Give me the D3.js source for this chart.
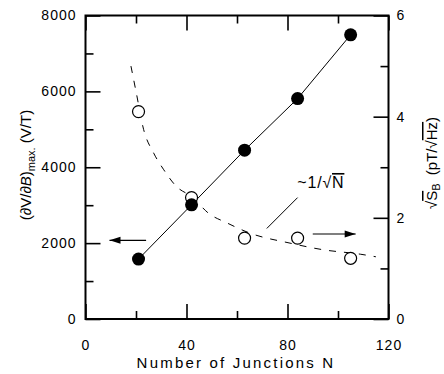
<!DOCTYPE html>
<html><head><meta charset="utf-8">
<script src="https://cdn.jsdelivr.net/npm/d3@7"></script>
<style>
body{margin:0;background:#fff;}
svg{display:block;font-family:"Liberation Sans",Arial,sans-serif;}
</style></head>
<body><svg id="c" width="444" height="374"></svg>
<script>
const junctions = [21, 42, 63, 84, 105];
const sensitivity = [1580, 3010, 4450, 5810, 7490];
const noise = [4.1, 2.4, 1.6, 1.6, 1.2];
const fitN = [18, 20, 23, 27, 31, 36, 42, 49, 56, 65, 81, 94, 109, 115];
const fitNoise = [5.0, 4.5, 3.75, 3.28, 2.95, 2.62, 2.42, 2.08, 1.9, 1.7, 1.5, 1.37, 1.28, 1.23];
const xMajor = [0, 40, 80, 120];
const xMinor = [20, 60, 100];
const yLMajor = [0, 2000, 4000, 6000, 8000];
const yLMinor = [1000, 3000, 5000, 7000];
const yRMajor = [0, 2, 4, 6];
const yRMinor = [1, 3, 5];

const svg = d3.select("#c");
const L = 85.5, R = 388.5, T = 15.5, B = 319;
const x = d3.scaleLinear().domain([0, 120]).range([L, R]);
const yL = d3.scaleLinear().domain([0, 8000]).range([B, T]);
const yR = d3.scaleLinear().domain([0, 6]).range([B, T]);

function styleAxis(g, fs) {
  g.select(".domain").remove();
  g.selectAll(".tick line").attr("stroke", "#000").attr("stroke-width", 1.6);
  g.selectAll("text").attr("fill", "#000").attr("font-size", fs).attr("letter-spacing", "1px")
    .attr("font-family", "'Liberation Sans',Arial,sans-serif");
}
// bottom
svg.append("g").attr("transform", `translate(0,${B})`)
  .call(d3.axisBottom(x).tickValues(xMajor).tickSize(-15).tickPadding(21).tickFormat(d3.format("d")))
  .call(g => styleAxis(g, 14));
svg.append("g").attr("transform", `translate(0,${B})`)
  .call(d3.axisBottom(x).tickValues(xMinor).tickSize(-8).tickFormat(""))
  .call(g => styleAxis(g, 14));
// top
svg.append("g").attr("transform", `translate(0,${T})`)
  .call(d3.axisTop(x).tickValues(xMajor).tickSize(-15).tickFormat(""))
  .call(g => styleAxis(g, 14));
svg.append("g").attr("transform", `translate(0,${T})`)
  .call(d3.axisTop(x).tickValues(xMinor).tickSize(-8).tickFormat(""))
  .call(g => styleAxis(g, 14));
// left
svg.append("g").attr("transform", `translate(${L},0)`)
  .call(d3.axisLeft(yL).tickValues(yLMajor).tickSize(-15).tickPadding(9).tickFormat(d3.format("d")))
  .call(g => styleAxis(g, 14));
svg.append("g").attr("transform", `translate(${L},0)`)
  .call(d3.axisLeft(yL).tickValues(yLMinor).tickSize(-8).tickFormat(""))
  .call(g => styleAxis(g, 14));
// right
svg.append("g").attr("transform", `translate(${R},0)`)
  .call(d3.axisRight(yR).tickValues(yRMajor).tickSize(-15).tickPadding(8).tickFormat(d3.format("d")))
  .call(g => styleAxis(g, 14));
svg.append("g").attr("transform", `translate(${R},0)`)
  .call(d3.axisRight(yR).tickValues(yRMinor).tickSize(-8).tickFormat(""))
  .call(g => styleAxis(g, 14));

// frame
svg.append("rect").attr("x", L).attr("y", T).attr("width", R - L).attr("height", B - T)
  .attr("fill", "none").attr("stroke", "#000").attr("stroke-width", 2);

// dashed fit curve
svg.append("path")
  .datum(fitN.map((n, i) => [n, fitNoise[i]]))
  .attr("d", d3.line().x(d => x(d[0])).y(d => yR(d[1])).curve(d3.curveMonotoneX))
  .attr("fill", "none").attr("stroke", "#000").attr("stroke-width", 1)
  .attr("stroke-dasharray", "7,8");

// solid line through sensitivity
svg.append("path")
  .datum(junctions.map((n, i) => [n, sensitivity[i]]))
  .attr("d", d3.line().x(d => x(d[0])).y(d => yL(d[1])))
  .attr("fill", "none").attr("stroke", "#000").attr("stroke-width", 1);

// open circles
svg.selectAll(".open").data(junctions).join("circle")
  .attr("cx", d => x(d)).attr("cy", (d, i) => yR(noise[i])).attr("r", 6)
  .attr("fill", "#fff").attr("stroke", "#000").attr("stroke-width", 1.2);

// filled circles
svg.selectAll(".fill").data(junctions).join("circle")
  .attr("cx", d => x(d)).attr("cy", (d, i) => yL(sensitivity[i])).attr("r", 6.5)
  .attr("fill", "#000");

// arrows
function arrow(x1, y1, x2, y2) {
  svg.append("line").attr("x1", x1).attr("y1", y1).attr("x2", x2).attr("y2", y2)
    .attr("stroke", "#000").attr("stroke-width", 1.2);
  const dir = Math.sign(x2 - x1);
  svg.append("path")
    .attr("d", `M${x2},${y2} L${x2 - dir * 11},${y2 - 3.5} L${x2 - dir * 11},${y2 + 3.5} Z`)
    .attr("fill", "#000");
}
arrow(x(24), yL(2075), x(9.5), yL(2075));
arrow(x(90), yR(1.68), x(107), yR(1.68));

// annotation line
svg.append("line").attr("x1", x(71.8)).attr("y1", yR(1.79)).attr("x2", x(84)).attr("y2", yR(2.40))
  .attr("stroke", "#000").attr("stroke-width", 1);
// annotation text ~1/sqrt(N)
const ann = svg.append("text").attr("x", x(83.9)).attr("y", yR(2.59))
  .attr("font-size", 16).attr("fill", "#000").attr("letter-spacing", "0.8px");
ann.append("tspan").text("~1/√");
ann.append("tspan").attr("text-decoration", "overline").text("N");

// x label
svg.append("text").attr("x", 236).attr("y", 368).attr("text-anchor", "middle")
  .attr("font-size", 15).attr("letter-spacing", "2.2px").attr("fill", "#000")
  .text("Number of Junctions N");

// left label
const ll = svg.append("text").attr("transform", "translate(31,165) rotate(-90)")
  .attr("text-anchor", "middle").attr("font-size", 15).attr("fill", "#000");
ll.append("tspan").text("(∂V/∂");
ll.append("tspan").attr("font-style", "italic").text("B");
ll.append("tspan").text(")");
ll.append("tspan").attr("font-size", 11).attr("dy", 4).text("max.");
ll.append("tspan").attr("dy", -4).text(" (V/T)");

// right label
const rl = svg.append("text").attr("transform", "translate(437,163) rotate(-90)")
  .attr("text-anchor", "middle").attr("font-size", 15).attr("fill", "#000");
rl.append("tspan").text("√");
rl.append("tspan").attr("text-decoration", "overline").text("S");
rl.append("tspan").attr("font-size", 11).attr("dy", 3).text("B");
rl.append("tspan").attr("dy", -3).text("\u00a0 (pT/√");
rl.append("tspan").attr("text-decoration", "overline").text("Hz");
rl.append("tspan").text(")");
</script></body></html>
